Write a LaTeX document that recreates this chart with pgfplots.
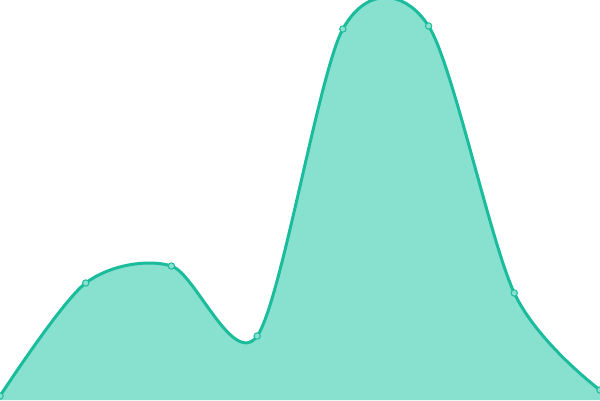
\documentclass[border=0pt]{standalone}
\usepackage{pgfplots}
\pgfplotsset{compat=1.18}
\definecolor{areafill}{HTML}{88E0CF}
\definecolor{arealine}{HTML}{1ABC9C}
\begin{document}
\begin{tikzpicture}
\begin{axis}[
    width=600pt, height=400pt,
    scale only axis,
    hide axis,
    xmin=0, xmax=7,
    ymin=0, ymax=400,
    clip marker paths=true,
]
% fill under the curve
\addplot[draw=none, fill=areafill, smooth, tension=0.5] coordinates {
    (0,4) (1,117) (2,134) (3,64) (4,371) (5,374) (6,107) (7,10)
} \closedcycle;
% outline with point markers
\addplot[arealine, line width=3pt, smooth, tension=0.5,
    mark=*, mark size=3.2pt,
    mark options={fill=areafill, draw=arealine, line width=1pt}] coordinates {
    (0,4) (1,117) (2,134) (3,64) (4,371) (5,374) (6,107) (7,10)
};
\end{axis}
\end{tikzpicture}
\end{document}
